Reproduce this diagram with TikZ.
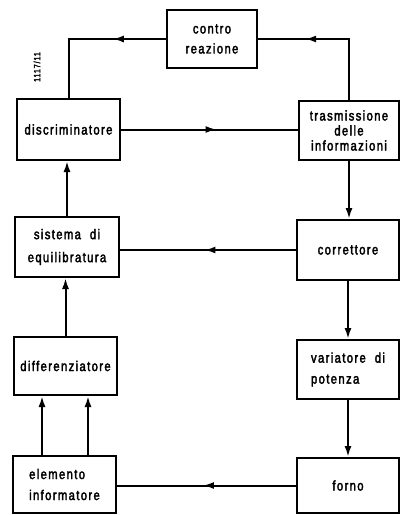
\documentclass[tikz,border=0pt]{standalone}
\usepackage{fontspec}
\setmainfont{Liberation Sans}[FakeStretch=0.8,LetterSpace=10,FakeBold=2.5]
\usetikzlibrary{decorations.markings,arrows.meta}
\begin{document}
\begin{tikzpicture}[x=1pt,y=-1pt,
  blk/.style={draw,line width=2pt,inner sep=0pt,align=center,
    font=\fontsize{14}{20}\selectfont},
  wire/.style={line width=2pt},
  tip/.style={-{Latex[length=11pt,width=7pt]}},
  midtip/.style={postaction=decorate,decoration={markings,
    mark=at position #1 with {\arrow{Latex[length=11pt,width=7pt]}}}}
]
\useasboundingbox (0,0) rectangle (401,515);

% blocks of the control loop
\node[blk,minimum width=90pt,minimum height=58pt] (contro) at (212,39) {contro\\reazione};
\node[blk,minimum width=103pt,minimum height=61pt] (disc) at (68.5,129.5) {discriminatore};
\node[blk,minimum width=100pt,minimum height=59pt,font=\fontsize{14}{15}\selectfont] (tras) at (349,130.5) {trasmissione\\delle\\informazioni};
\node[blk,minimum width=104pt,minimum height=60pt,font=\fontsize{14}{23}\selectfont] (sis) at (67,247) {sistema\ \ di\\equilibratura};
\node[blk,minimum width=102pt,minimum height=60pt] (corr) at (348,250) {correttore};
\node[blk,minimum width=103pt,minimum height=58pt] (diff) at (65.5,366) {differenziatore};
\node[blk,minimum width=102pt,minimum height=59pt,align=left,font=\fontsize{14}{21}\selectfont] (var) at (348,369.5) {variatore\ \ di\\potenza};
\node[blk,minimum width=103pt,minimum height=57pt,align=left,font=\fontsize{14}{21}\selectfont] (elem) at (64.5,484.5) {elemento\\informatore};
\node[blk,minimum width=102pt,minimum height=55pt] (forno) at (348,485.5) {forno};

% drawing reference number
\node[rotate=90,inner sep=0pt,font=\fontsize{9}{9}\selectfont] (code) at (37,67) {1117/11};

% connectors
\draw[wire,midtip=0.34] (contro.west) -| (disc.north);
\draw[wire,midtip=0.69] (tras.north) |- (contro.east);
\draw[wire,midtip=0.54] (disc.east) -- (disc.east -| tras.west);
\draw[wire,tip] (tras.south) -- (tras.south |- corr.north);
\draw[wire,midtip=0.52] (corr.west) -- (corr.west -| sis.east);
\draw[wire,tip] (sis.north) -- (sis.north |- disc.south);
\draw[wire,tip] (corr.south) -- (corr.south |- var.north);
\draw[wire,tip] (diff.north) -- (diff.north |- sis.south);
\draw[wire,tip] (var.south) -- (var.south |- forno.north);
\draw[wire,midtip=0.52] (forno.west) -- (forno.west -| elem.east);
\draw[wire,tip] ([xshift=-22.5pt]elem.north) -- ([xshift=-22.5pt]elem.north |- diff.south);
\draw[wire,tip] ([xshift=23.5pt]elem.north) -- ([xshift=23.5pt]elem.north |- diff.south);
\end{tikzpicture}
\end{document}
